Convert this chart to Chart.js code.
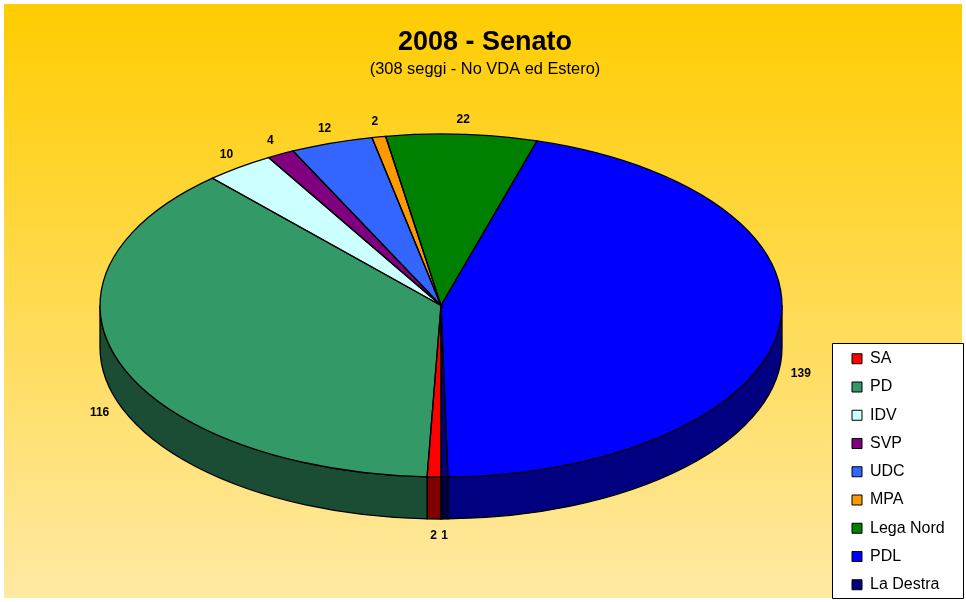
<!DOCTYPE html>
<html>
<head>
<meta charset="utf-8">
<title>2008 - Senato</title>
<style>
    html, body { margin: 0; padding: 0; background: #fff; }
    canvas { display: block; }
</style>
<script src="https://cdn.jsdelivr.net/npm/chart.js@4"></script>
</head>
<body>
<div style="width:966px;height:602px"><canvas id="chart"></canvas></div>
<script>
const categories = ['SA', 'PD', 'IDV', 'SVP', 'UDC', 'MPA', 'Lega Nord', 'PDL', 'La Destra'];
const seats = [2, 116, 10, 4, 12, 2, 22, 139, 1];
const sliceColors = ['#FF0000', '#339966', '#CCFFFF', '#800080', '#3366FF', '#FF9900', '#008000', '#0000FF', '#000080'];
const sideColors = ['#800000', '#1A4D33', '#668080', '#400040', '#1A3380', '#804D00', '#004000', '#000080', '#000040'];

const pie = { x: 441, y: 305.5, radius: 341, squash: 171.5 / 341, depth: 42 };
const legendBox = { left: 832, top: 343, right: 963, bottom: 598 };
const outlineWidth = 1.3;

function slicePath(ctx, arc, offsetY) {
    ctx.save();
    ctx.translate(pie.x, pie.y + offsetY);
    ctx.scale(1, pie.squash);
    ctx.beginPath();
    ctx.moveTo(0, 0);
    ctx.arc(0, 0, arc.outerRadius, arc.startAngle, arc.endAngle);
    ctx.closePath();
    ctx.restore();
}

function drawSide(ctx, arc, color) {
    const rx = arc.outerRadius;
    const ry = rx * pie.squash;
    // the wall only shows on the front half, angles 0..PI and again one turn on
    [0, Math.PI * 2].forEach(function (turn) {
        const from = Math.max(arc.startAngle, turn);
        const to = Math.min(arc.endAngle, turn + Math.PI);
        if (from >= to) return;
        ctx.beginPath();
        ctx.ellipse(pie.x, pie.y, rx, ry, 0, from, to);
        ctx.ellipse(pie.x, pie.y + pie.depth, rx, ry, 0, to, from, true);
        ctx.closePath();
        ctx.fillStyle = color;
        ctx.fill();
        ctx.stroke();
    });
}

const pie3d = {
    id: 'pie3d',
    beforeDraw(chart) {
        const ctx = chart.ctx;
        const gradient = ctx.createLinearGradient(0, 4, 0, 598);
        gradient.addColorStop(0, '#FFCC00');
        gradient.addColorStop(1, '#FFE9A3');
        ctx.save();
        ctx.fillStyle = '#FFFFFF';
        ctx.fillRect(0, 0, chart.width, chart.height);
        ctx.fillStyle = gradient;
        ctx.fillRect(4, 4, chart.width - 8, chart.height - 8);
        // legend frame
        ctx.fillStyle = '#FFFFFF';
        ctx.strokeStyle = '#000';
        ctx.lineWidth = 1;
        ctx.beginPath();
        ctx.rect(legendBox.left + 0.5, legendBox.top + 0.5, legendBox.right - legendBox.left, legendBox.bottom - legendBox.top);
        ctx.fill();
        ctx.stroke();
        ctx.restore();
    },
    afterLayout(chart) {
        // legend sits in its own box at the bottom right
        const legend = chart.legend;
        legend.left = legendBox.left + 7.75;
        legend.right = legendBox.right;
        legend.top = legendBox.top - 4.5;
        legend.bottom = legendBox.bottom + 30;
    },
    beforeDatasetDraw(chart) {
        const ctx = chart.ctx;
        const arcs = chart.getDatasetMeta(0).data;
        ctx.save();
        ctx.strokeStyle = '#000';
        ctx.lineWidth = outlineWidth;
        arcs.forEach(function (arc, i) {
            drawSide(ctx, arc, sideColors[i]);
        });
        ctx.restore();
        ctx.save();
        ctx.translate(pie.x, pie.y);
        ctx.scale(1, pie.squash);
        ctx.translate(-arcs[0].x, -arcs[0].y);
    },
    afterDatasetDraw(chart) {
        const ctx = chart.ctx;
        ctx.restore();
        ctx.save();
        ctx.strokeStyle = '#000';
        ctx.lineWidth = outlineWidth;
        chart.getDatasetMeta(0).data.forEach(function (arc) {
            slicePath(ctx, arc, 0);
            ctx.stroke();
        });
        ctx.restore();
    },
    afterDraw(chart) {
        const ctx = chart.ctx;
        ctx.save();
        ctx.font = 'bold 12px "Liberation Sans"';
        ctx.fillStyle = '#000';
        ctx.textAlign = 'center';
        ctx.textBaseline = 'middle';
        chart.getDatasetMeta(0).data.forEach(function (arc, i) {
            const mid = (arc.startAngle + arc.endAngle) / 2;
            const cos = Math.cos(mid);
            const sin = Math.sin(mid);
            const x = pie.x + arc.outerRadius * cos + cos * 22;
            let y = pie.y + arc.outerRadius * pie.squash * sin + sin * 15;
            if (sin > 0) y += pie.depth + 2;
            ctx.fillText(String(seats[i]), x, y);
        });
        ctx.restore();
    }
};

new Chart(document.getElementById('chart'), {
    type: 'pie',
    data: {
        labels: categories,
        datasets: [{
            data: seats,
            backgroundColor: sliceColors,
            borderWidth: 0,
            radius: pie.radius
        }]
    },
    plugins: [pie3d],
    options: {
        responsive: true,
        maintainAspectRatio: false,
        animation: false,
        rotation: 180,
        events: [],
        layout: { padding: { left: 4, top: 4 } },
        plugins: {
            tooltip: { enabled: false },
            title: {
                display: true,
                text: '2008 - Senato',
                color: '#000',
                font: { family: '"Liberation Sans"', size: 27, weight: 'bold' },
                padding: { top: 22.8, bottom: 0 }
            },
            subtitle: {
                display: true,
                text: '(308 seggi - No VDA ed Estero)',
                color: '#000',
                font: { family: '"Liberation Sans"', size: 16.4, weight: 'normal' },
                padding: { top: 0, bottom: 0 }
            },
            legend: {
                position: 'chartArea',
                align: 'start',
                labels: {
                    color: '#000',
                    font: { family: '"Liberation Sans"', size: 16 },
                    boxWidth: 10,
                    boxHeight: 10,
                    padding: 12.25,
                    generateLabels(chart) {
                        return Chart.overrides.pie.plugins.legend.labels.generateLabels(chart).map(function (item) {
                            item.strokeStyle = '#000';
                            item.lineWidth = 1;
                            item.lineJoin = 'miter';
                            return item;
                        });
                    }
                }
            }
        }
    }
});
</script>
</body>
</html>
